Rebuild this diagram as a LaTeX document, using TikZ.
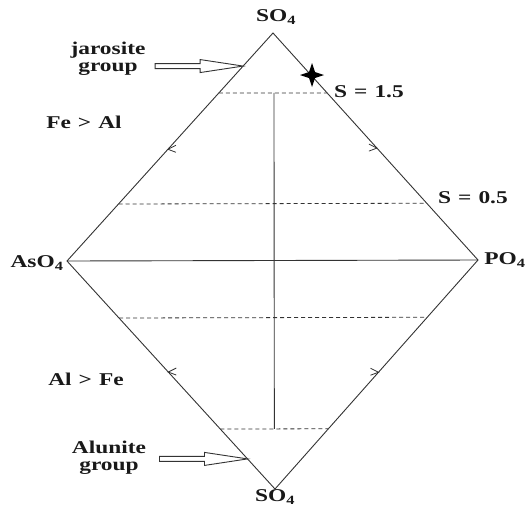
\documentclass[tikz,border=0pt]{standalone}
\usepackage{fontspec}
\setmainfont{Liberation Serif}[FakeStretch=1.3]
\usetikzlibrary{calc}
\newcommand{\gapsp}{\hspace{7pt}}
\begin{document}
\begin{tikzpicture}[x=1pt,y=-1pt,
  edge/.style={line width=0.9pt,draw=black!80},
  dashline/.style={line width=0.8pt,draw=black!80,dash pattern=on 4pt off 3pt},
  lab/.style={font=\fontsize{18}{17}\selectfont\bfseries,text=black!90,inner sep=0pt,align=center},
  tickmark/.style={line width=0.8pt,draw=black!80},
  blockarrow/.style={line width=0.9pt,draw=black!80,fill=white}]
\useasboundingbox (0,0) rectangle (528,507);
\coordinate (T) at (273,33);
\coordinate (B) at (275,489);
\coordinate (L) at (67,261);
\coordinate (R) at (478,260);
% outline
\draw[edge] (L) -- (T) -- (R) -- (B) -- cycle;
\draw[edge] (L) -- (R);
% dashed levels
\path (L) -- (T) coordinate[pos=0.737] (d1l) coordinate[pos=0.25] (d2l) coordinate[pos=0.49] (tk1) coordinate[pos=0.855] (jt);
\path (T) -- (R) coordinate[pos=0.264] (d1r) coordinate[pos=0.75] (d2r) coordinate[pos=0.507] (tk2);
\path (L) -- (B) coordinate[pos=0.25] (d3l) coordinate[pos=0.737] (d4l) coordinate[pos=0.487] (tk3) coordinate[pos=0.868] (at);
\path (R) -- (B) coordinate[pos=0.25] (d3r) coordinate[pos=0.737] (d4r) coordinate[pos=0.49] (tk4);
\draw[dashline] (d1l) -- (d1r);
\draw[dashline] (d2l) -- (d2r);
\draw[dashline] (d3l) -- (d3r);
\draw[dashline] (d4l) -- (d4r);
\coordinate (vt) at ($(d1l)!0.5!(d1r)+(1,0)$);
\coordinate (vb) at ($(d4l)!0.5!(d4r)$);
\draw[edge] (vt) -- (vb);
% ticks
\draw[tickmark] ($(tk1)+(8,-4)$) -- (tk1) -- ($(tk1)+(8,3)$);
\draw[tickmark] ($(tk3)+(8,-4)$) -- (tk3) -- ($(tk3)+(8,3)$);
\draw[tickmark] ($(tk2)+(-8,-4)$) -- (tk2) -- ($(tk2)+(-8,3)$);
\draw[tickmark] ($(tk4)+(-8,-4)$) -- (tk4) -- ($(tk4)+(-8,3)$);
% star
\coordinate (st) at (312,75);
\fill[black] (st) ++(0,-12) -- ++(3,9) -- ++(9,3) -- ++(-9,3) -- ++(-3,9) -- ++(-3,-9) -- ++(-9,-3) -- ++(9,-3) -- cycle;
% block arrows
\draw[blockarrow] (jt) -- ++(-43,-6.5) -- ++(0,4) -- ++(-45,0) -- ++(0,5) -- ++(45,0) -- ++(0,4) -- cycle;
\draw[blockarrow] (at) -- ++(-43,-6.5) -- ++(0,4) -- ++(-45,0) -- ++(0,5) -- ++(45,0) -- ++(0,4) -- cycle;
% labels
\node[lab] (so4t) at (276,17) {SO\textsubscript{4}};
\node[lab] (so4b) at (275,497) {SO\textsubscript{4}};
\node[lab] (aso4) at (37,263) {AsO\textsubscript{4}};
\node[lab] (po4) at (505,260) {PO\textsubscript{4}};
\node[lab] (s15) at (369,92) {S\gapsp=\gapsp1.5};
\node[lab] (s05) at (473,198) {S\gapsp=\gapsp0.5};
\node[lab] (feal) at (84,122) {Fe\gapsp>\gapsp Al};
\node[lab] (alfe) at (86,379) {Al\gapsp>\gapsp Fe};
\node[lab] (jar) at (108,59) {jarosite\\group};
\node[lab] (alu) at (109,458) {Alunite\\group};
\end{tikzpicture}
\end{document}
